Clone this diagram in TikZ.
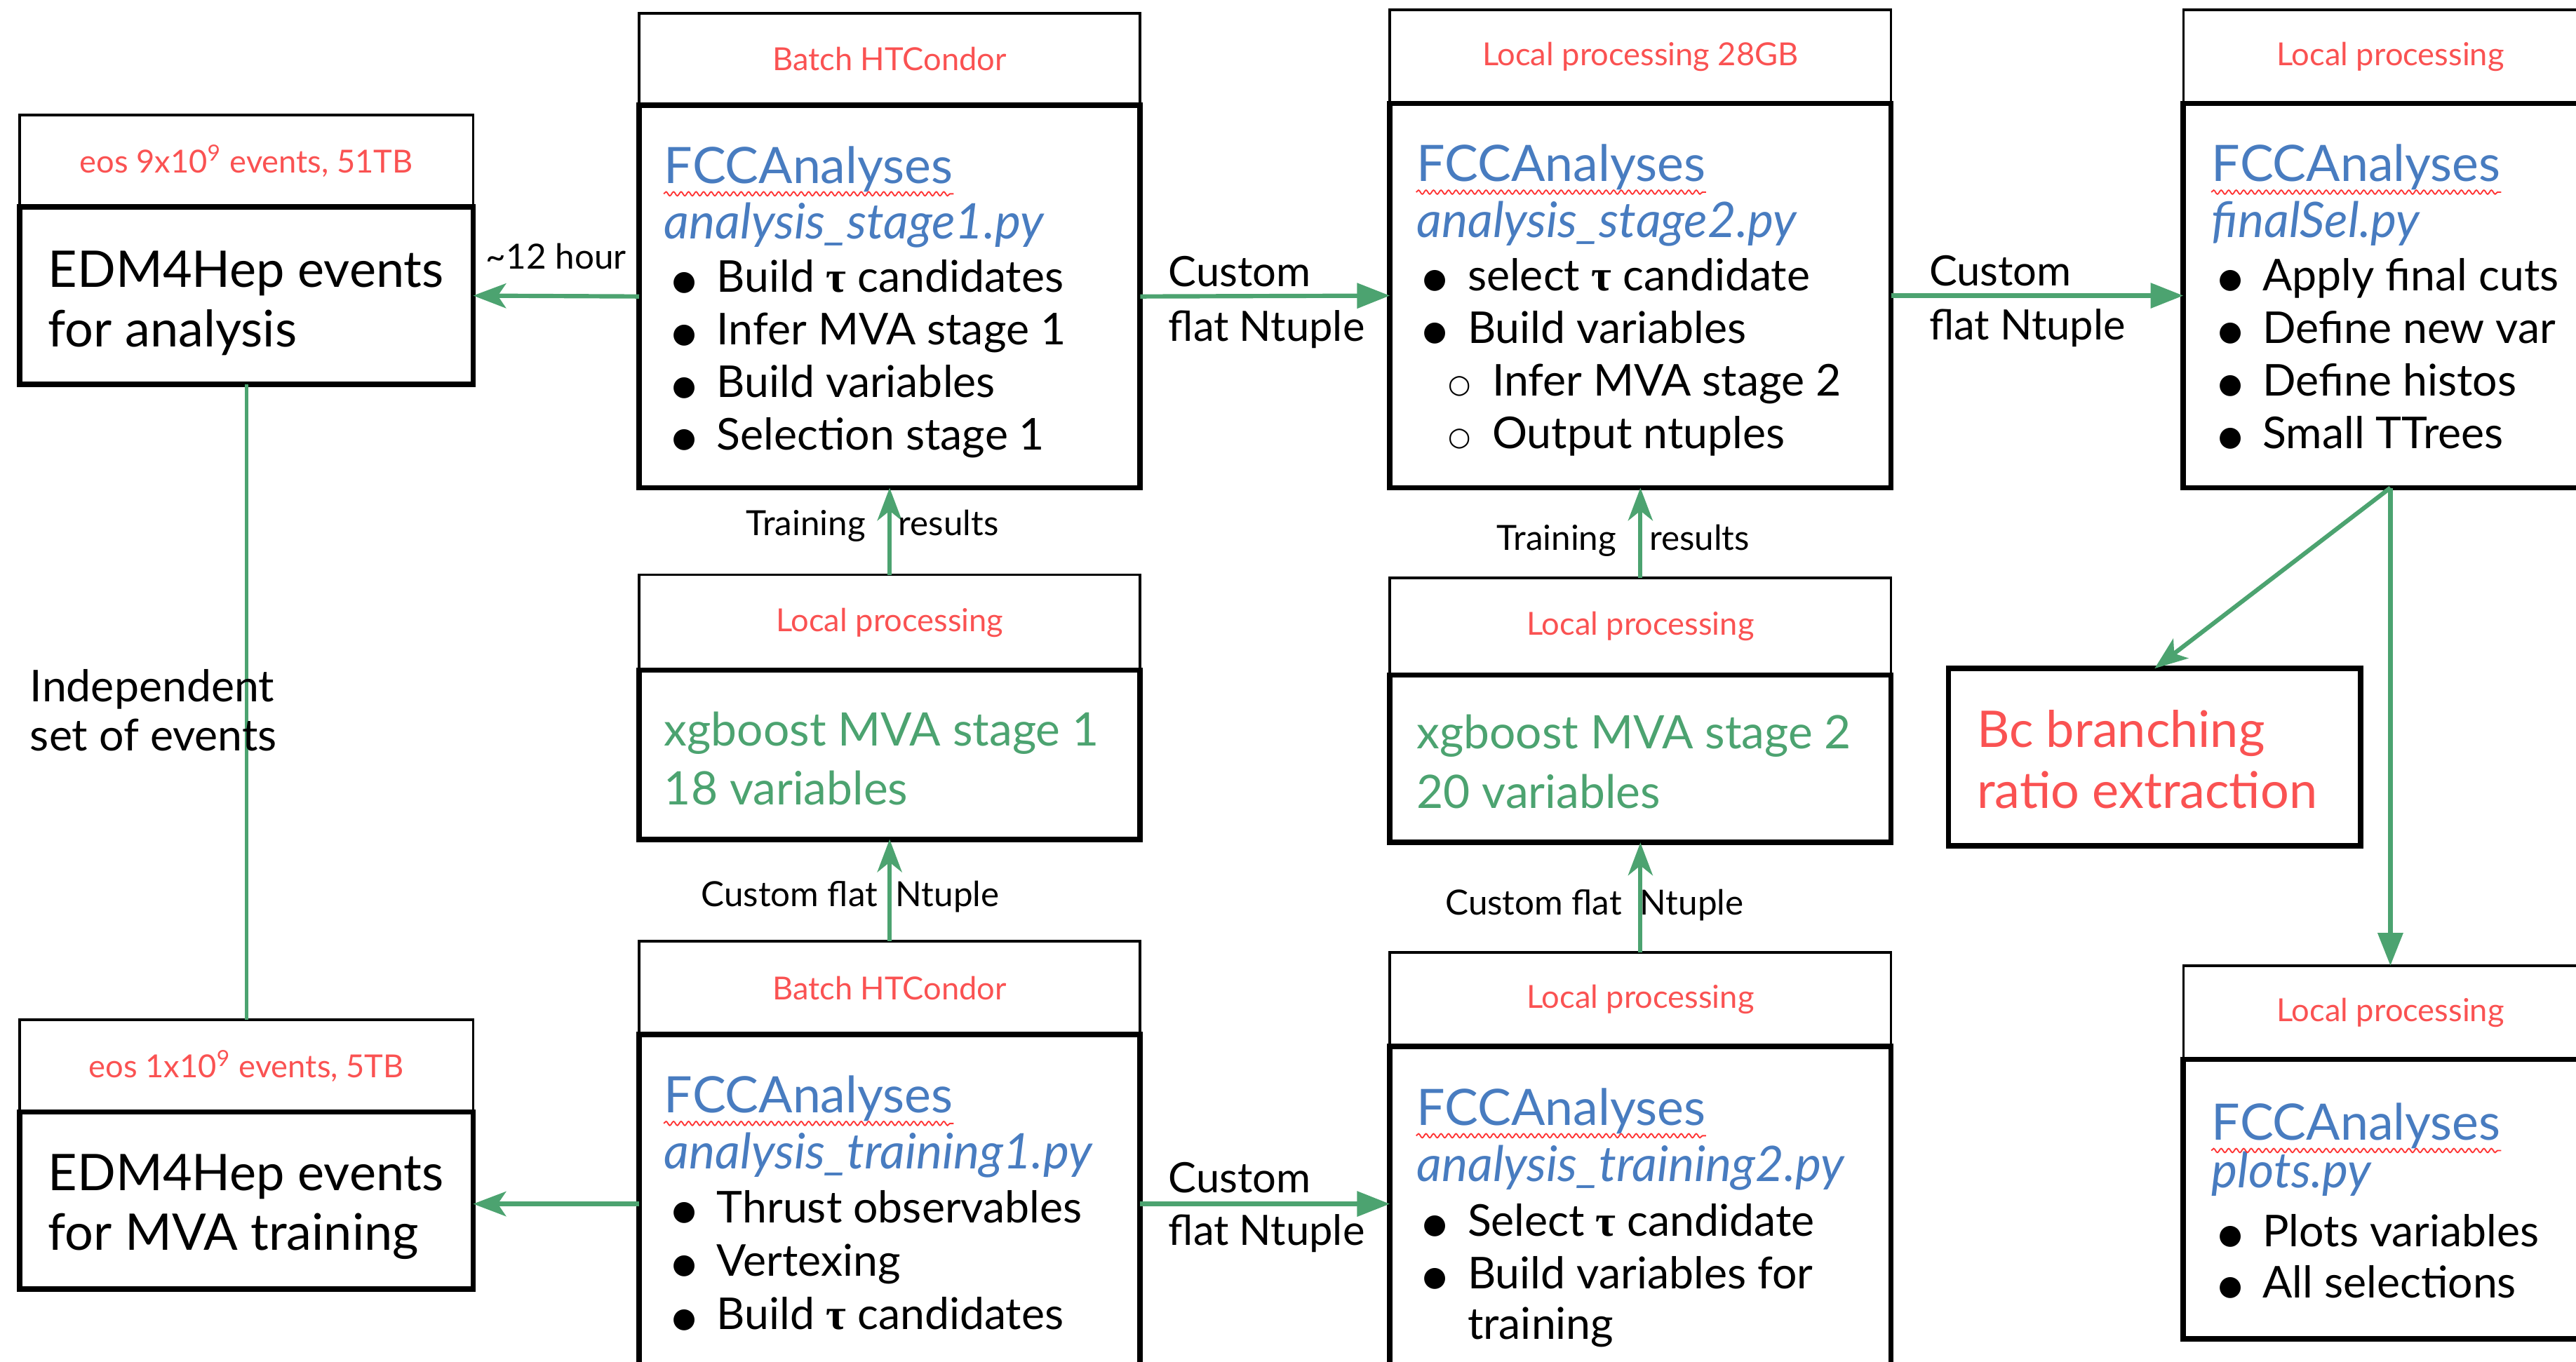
\documentclass[tikz,border=0pt]{standalone}
\usepackage{fontspec}
\setmainfont{Lato}
\newfontfamily\taufont{Liberation Serif}
\newfontfamily\symfont{DejaVu Sans}
\usetikzlibrary{arrows.meta,positioning,decorations.pathmorphing}

\definecolor{hdred}{RGB}{250,82,82}
\definecolor{fccblue}{RGB}{72,124,192}
\definecolor{mvagreen}{RGB}{76,163,112}

\newcommand{\tauf}{{\taufont\bfseries τ}}
\newcommand{\bul}{\makebox[0.54cm][l]{\raisebox{0.9pt}{\symfont\fontsize{9.5}{9.5}\selectfont ●}}}
\newcommand{\subbul}{\makebox[0.54cm][l]{\raisebox{0.9pt}{\symfont\fontsize{9}{9}\selectfont ○}}}
\newlength{\ttw}

\tikzset{
    hdr/.style = {draw, line width=0.9pt, outer sep=0pt, inner sep=0pt,
        anchor=north west, text=hdred, font=\fontsize{11}{13}\selectfont},
    bodybox/.style = {draw, line width=1.9pt, outer sep=0pt, inner sep=0pt},
    big/.style = {anchor=base west, inner sep=0pt, align=left,
        font=\fontsize{17.5}{20.5}\selectfont},
    fcc/.style = {anchor=base west, inner sep=0pt, text=fccblue,
        font=\fontsize{17.4}{20}\selectfont},
    pyfile/.style = {anchor=base west, inner sep=0pt, text=fccblue,
        font=\fontsize{17}{19}\selectfont\itshape},
    itm/.style = {anchor=base west, inner sep=0pt, font=\fontsize{15.2}{18}\selectfont},
    wavy/.style = {draw=red!80, line width=0.45pt, decorate,
        decoration={snake, amplitude=0.7pt, segment length=2.6pt}}
}

\begin{document}
\begin{tikzpicture}[
    lab/.style={inner sep=0pt, font=\fontsize{14.5}{17}\selectfont},
    slab/.style={inner sep=0pt, font=\fontsize{12}{14}\selectfont},
    rarr/.style={draw=mvagreen, line width=1.5pt, -{Triangle[length=0.40cm, width=0.30cm]}},
    larr/.style={draw=mvagreen, line width=1.5pt, -{Stealth[length=0.40cm, width=0.30cm, inset=0.1cm]}},
    uarr/.style={draw=mvagreen, line width=1.4pt, -{Stealth[length=0.40cm, width=0.30cm, inset=0.12cm]}},
    link/.style={draw=mvagreen, line width=1.2pt}
]
\useasboundingbox (0,0) rectangle (31.36,-16.58);
\settowidth{\ttw}{\fontsize{15.2}{18}\selectfont TTrees}

% event samples
\node[hdr, minimum width=5.52cm, minimum height=1.12cm] (ev1h) at (0.24,-1.40) {eos 9x10\textsuperscript{9} events, 51TB};
\node[bodybox, minimum width=5.52cm, minimum height=2.16cm, below=0pt of ev1h] (ev1) {};
\node[big] (ev1-t) at ([xshift=0.34cm, yshift=-1.70cm]ev1.north west) {EDM4Hep events\\for analysis};

\node[hdr, minimum width=5.52cm, minimum height=1.12cm] (ev2h) at (0.24,-12.42) {eos 1x10\textsuperscript{9} events, 5TB};
\node[bodybox, minimum width=5.52cm, minimum height=2.16cm, below=0pt of ev2h] (ev2) {};
\node[big] (ev2-t) at ([xshift=0.34cm, yshift=-1.68cm]ev2.north west) {EDM4Hep events\\for MVA training};

% stage 1
\node[hdr, minimum width=6.1cm, minimum height=1.12cm] (s1h) at (7.78,-0.16) {Batch HTCondor};
\node[bodybox, minimum width=6.1cm, minimum height=4.66cm, below=0pt of s1h] (s1) {};
\node[fcc] (s1-t) at ([xshift=0.30cm, yshift=-0.95cm]s1.north west) {FCCAnalyses};
\node[pyfile] (s1-f) at ([xshift=0.30cm, yshift=-1.63cm]s1.north west) {analysis\_stage1.py};
\foreach \t [count=\i] in {Build \tauf{} candidates, Infer MVA stage 1, Build variables, Selection stage 1}
    \node[itm] (s1-\i) at ([xshift=0.40cm, yshift={-2.28cm-(\i-1)*0.64cm}]s1.north west) {\bul\t};

% stage 2
\node[hdr, minimum width=6.1cm, minimum height=1.14cm] (s2h) at (16.92,-0.12) {Local processing 28GB};
\node[bodybox, minimum width=6.1cm, minimum height=4.68cm, below=0pt of s2h] (s2) {};
\node[fcc] (s2-t) at ([xshift=0.32cm, yshift=-0.95cm]s2.north west) {FCCAnalyses};
\node[pyfile] (s2-f) at ([xshift=0.32cm, yshift=-1.63cm]s2.north west) {analysis\_stage2.py};
\node[itm] (s2-1) at ([xshift=0.40cm, yshift=-2.28cm]s2.north west) {\bul select \tauf{} candidate};
\node[itm] (s2-2) at ([xshift=0.40cm, yshift=-2.92cm]s2.north west) {\bul Build variables};
\node[itm] (s2-3) at ([xshift=0.70cm, yshift=-3.56cm]s2.north west) {\subbul Infer MVA stage 2};
\node[itm] (s2-4) at ([xshift=0.70cm, yshift=-4.20cm]s2.north west) {\subbul Output ntuples};

% final selection
\node[hdr, minimum width=5.04cm, minimum height=1.14cm] (fsh) at (26.58,-0.12) {Local processing};
\node[bodybox, minimum width=5.04cm, minimum height=4.68cm, below=0pt of fsh] (fs) {};
\node[fcc] (fs-t) at ([xshift=0.34cm, yshift=-0.95cm]fs.north west) {FCCAnalyses};
\node[pyfile] (fs-f) at ([xshift=0.34cm, yshift=-1.63cm]fs.north west) {finalSel.py};
\foreach \t [count=\i] in {Apply final cuts, Define new var, Define histos, Small TTrees}
    \node[itm] (fs-\i) at ([xshift=0.42cm, yshift={-2.28cm-(\i-1)*0.64cm}]fs.north west) {\bul\t};

% mva trainings
\node[hdr, minimum width=6.1cm, minimum height=1.16cm] (x1h) at (7.78,-7.00) {Local processing};
\node[bodybox, minimum width=6.1cm, minimum height=2.06cm, below=0pt of x1h] (x1) {};
\node[big, text=mvagreen, font=\fontsize{16}{20.5}\selectfont] (x1-t) at ([xshift=0.30cm, yshift=-1.64cm]x1.north west) {xgboost MVA stage 1\\18 variables};

\node[hdr, minimum width=6.1cm, minimum height=1.18cm] (x2h) at (16.92,-7.04) {Local processing};
\node[bodybox, minimum width=6.1cm, minimum height=2.04cm, below=0pt of x2h] (x2) {};
\node[big, text=mvagreen, font=\fontsize{16}{20.5}\selectfont] (x2-t) at ([xshift=0.32cm, yshift=-1.62cm]x2.north west) {xgboost MVA stage 2\\20 variables};

\node[bodybox, minimum width=5.02cm, minimum height=2.16cm, anchor=north west] (bc) at (23.72,-8.14) {};
\node[big, text=hdred, font=\fontsize{17.5}{21}\selectfont] (bc-t) at ([xshift=0.34cm, yshift=-1.70cm]bc.north west) {Bc branching\\ratio extraction};

% training samples
\node[hdr, minimum width=6.1cm, minimum height=1.14cm] (t1h) at (7.78,-11.46) {Batch HTCondor};
\node[bodybox, minimum width=6.1cm, minimum height=4.12cm, below=0pt of t1h] (t1) {};
\node[fcc] (t1-t) at ([xshift=0.30cm, yshift=-0.95cm]t1.north west) {FCCAnalyses};
\node[pyfile] (t1-f) at ([xshift=0.30cm, yshift=-1.63cm]t1.north west) {analysis\_training1.py};
\foreach \t [count=\i] in {Thrust observables, Vertexing, Build \tauf{} candidates}
    \node[itm] (t1-\i) at ([xshift=0.40cm, yshift={-2.29cm-(\i-1)*0.65cm}]t1.north west) {\bul\t};

\node[hdr, minimum width=6.1cm, minimum height=1.14cm] (t2h) at (16.92,-11.60) {Local processing};
\node[bodybox, minimum width=6.1cm, minimum height=4.12cm, below=0pt of t2h] (t2) {};
\node[fcc] (t2-t) at ([xshift=0.32cm, yshift=-0.96cm]t2.north west) {FCCAnalyses};
\node[pyfile] (t2-f) at ([xshift=0.32cm, yshift=-1.65cm]t2.north west) {analysis\_training2.py};
\node[itm] (t2-1) at ([xshift=0.40cm, yshift=-2.31cm]t2.north west) {\bul Select \tauf{} candidate};
\node[itm] (t2-2) at ([xshift=0.40cm, yshift=-2.95cm]t2.north west) {\bul Build variables for};
\node[itm] (t2-3) at ([xshift=0.94cm, yshift=-3.57cm]t2.north west) {training};

% plots
\node[hdr, minimum width=5.04cm, minimum height=1.14cm] (plh) at (26.58,-11.76) {Local processing};
\node[bodybox, minimum width=5.04cm, minimum height=3.40cm, below=0pt of plh] (pl) {};
\node[fcc] (pl-t) at ([xshift=0.34cm, yshift=-0.98cm]pl.north west) {FCCAnalyses};
\node[pyfile] (pl-f) at ([xshift=0.34cm, yshift=-1.56cm]pl.north west) {plots.py};
\node[itm] (pl-1) at ([xshift=0.42cm, yshift=-2.28cm]pl.north west) {\bul Plots variables};
\node[itm] (pl-2) at ([xshift=0.42cm, yshift=-2.90cm]pl.north west) {\bul All selections};

% spell-check waves
\foreach \n in {s1,s2,fs,t1,t2,pl}
    \draw[wavy] ([yshift=-0.13cm]\n-t.base west) -- ([yshift=-0.13cm]\n-t.base east);
\draw[wavy] ([yshift=-0.13cm]fs-4.base east) -- ++(-\ttw,0);

% connections
\draw[link] (ev1.south) -- (ev2h.north);
\node[lab, anchor=base west, align=left, font=\fontsize{15.2}{17}\selectfont] (indep) at (0.36,-9.14) {Independent\\set of events};

\draw[larr] (s1.west) -- node[slab, above=0.30cm] (hour) {\textasciitilde12 hour} (ev1.east);
\draw[rarr] (s1.east) -- node[lab, pos=0, anchor=base west, xshift=0.32cm, yshift=0.12cm] (c1) {Custom}
    node[lab, pos=0, anchor=north west, xshift=0.32cm, yshift=-0.14cm] (f1) {flat Ntuple} (s2.west);
\draw[rarr] (s2.east) -- node[lab, pos=0, anchor=base west, xshift=0.44cm, yshift=0.12cm] (c2) {Custom}
    node[lab, pos=0, anchor=north west, xshift=0.44cm, yshift=-0.14cm] (f2) {flat Ntuple} (fs.west);
\draw[uarr] (x1h.north) -- node[slab, xshift=-0.21cm, yshift=0.07cm] (tr1) {Training\hspace{0.4cm}results} (s1.south);
\draw[uarr] (x2h.north) -- node[slab, xshift=-0.21cm, yshift=-0.09cm] (tr2) {Training\hspace{0.4cm}results} (s2.south);
\draw[uarr] (t1h.north) -- node[slab, xshift=-0.48cm, yshift=-0.08cm] (cf1) {Custom flat\hspace{0.22cm}Ntuple} (x1.south);
\draw[uarr] (t2h.north) -- node[slab, xshift=-0.56cm, yshift=-0.09cm] (cf2) {Custom flat\hspace{0.22cm}Ntuple} (x2.south);
\draw[larr] (t1.west) -- (t1.west -| ev2.east);
\draw[rarr] (t1.east) -- node[lab, pos=0, anchor=base west, xshift=0.32cm, yshift=0.14cm] (c3) {Custom}
    node[lab, pos=0, anchor=north west, xshift=0.32cm, yshift=-0.10cm] (f3) {flat Ntuple} (t1.east -| t2.west);
\draw[larr] (fs.south) -- (bc.north);
\draw[rarr] (fs.south) -- (plh.north);
\end{tikzpicture}
\end{document}
